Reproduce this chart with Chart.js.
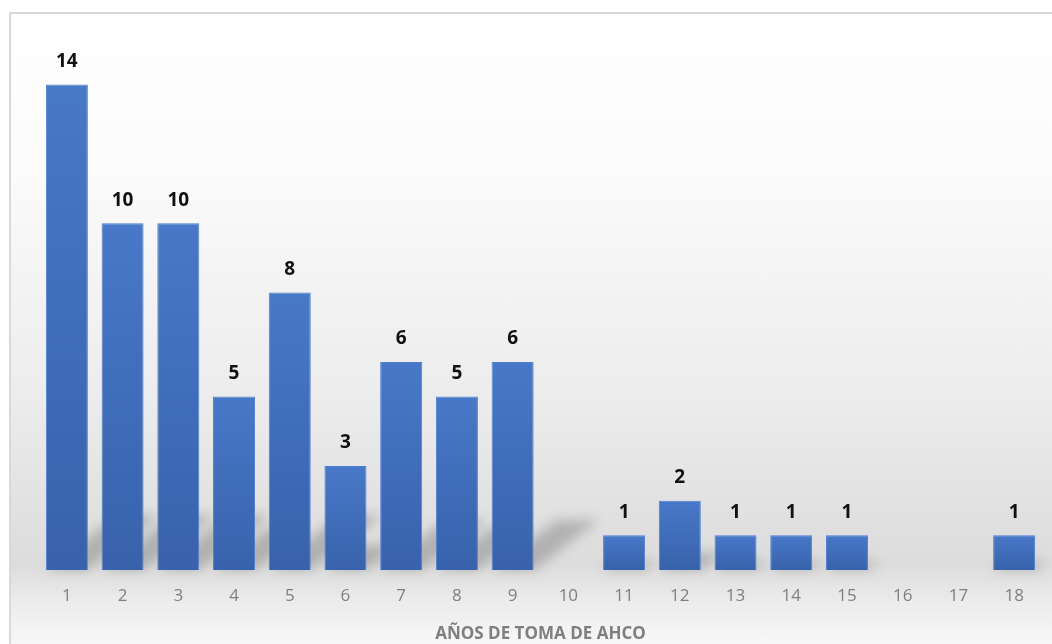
<!DOCTYPE html>
<html>
<head>
<meta charset="utf-8">
<script src="https://cdn.jsdelivr.net/npm/chart.js@4"></script>
<style>
  html, body { margin: 0; padding: 0; background: #fff; }
  #frame {
    position: absolute; left: 9px; top: 12px; width: 1050px; height: 640px;
    border-top: 2px solid #d9d9d9; border-left: 2px solid #d9d9d9;
    background: linear-gradient(to bottom, #ffffff 0%, #fbfbfb 25%, #ececec 60%, #dcdcdc 86%, #ececec 92%, #fafafa 100%);
  }
  #wrap { position: absolute; left: 0; top: 0; width: 1052px; height: 644px; }
</style>
</head>
<body>
<div id="frame"></div>
<div id="wrap"><canvas id="chart" width="1052" height="644"></canvas></div>
<script>
const categories = ["1", "2", "3", "4", "5", "6", "7", "8", "9", "10", "11", "12", "13", "14", "15", "16", "17", "18"];
const counts = [14, 10, 10, 5, 8, 3, 6, 5, 6, 0, 1, 2, 1, 1, 1, 0, 0, 1];
const axisTitle = "AÑOS DE TOMA DE AHCO";

function barFill(context) {
  const chart = context.chart;
  const y = chart.scales.y;
  if (!y || context.raw == null) return "#4472c4";
  const top = y.getPixelForValue(context.raw);
  const base = y.getPixelForValue(0);
  if (!isFinite(top) || !isFinite(base) || top === base) return "#4472c4";
  const g = chart.ctx.createLinearGradient(0, top, 0, base);
  g.addColorStop(0, "#4878c8");
  g.addColorStop(1, "#3862ab");
  return g;
}

// soft floor shadow behind each bar
const floorShadow = {
  id: "floorShadow",
  beforeDatasetsDraw(chart) {
    const ctx = chart.ctx;
    const meta = chart.getDatasetMeta(0);
    ctx.save();
    ctx.filter = "blur(6px)";
    ctx.fillStyle = "rgba(0,0,0,0.2)";
    meta.data.forEach((bar) => {
      const h = bar.base - bar.y;
      if (h <= 0) return;
      const s = Math.min(h * 0.24, 55);
      const left = bar.x - bar.width / 2;
      const right = bar.x + bar.width / 2;
      ctx.beginPath();
      ctx.moveTo(left, bar.base);
      ctx.lineTo(right, bar.base);
      ctx.lineTo(right + s * 1.3, bar.base - s);
      ctx.lineTo(left + s * 1.3, bar.base - s);
      ctx.closePath();
      ctx.fill();
    });
    ctx.restore();
  },
};

const valueLabels = {
  id: "valueLabels",
  afterDatasetsDraw(chart) {
    const ctx = chart.ctx;
    const meta = chart.getDatasetMeta(0);
    ctx.save();
    ctx.font = "bold 19px 'Open Sans', sans-serif";
    ctx.fillStyle = "#111";
    ctx.textAlign = "center";
    ctx.textBaseline = "middle";
    meta.data.forEach((bar, i) => {
      if (!counts[i]) return;
      ctx.fillText(String(counts[i]), bar.x, bar.y - 23);
    });
    ctx.restore();
  },
};

new Chart(document.getElementById("chart").getContext("2d"), {
  type: "bar",
  data: {
    labels: categories,
    datasets: [{
      data: counts,
      backgroundColor: barFill,
      borderColor: "#4f7fd0",
      borderWidth: 1,
      categoryPercentage: 0.754,
      barPercentage: 1,
    }],
  },
  options: {
    responsive: false,
    animation: false,
    layout: { padding: { left: 39, right: 10, top: 15, bottom: 0 } },
    plugins: { legend: { display: false }, tooltip: { enabled: false } },
    scales: {
      x: {
        afterFit(scale) { scale.height = 74; },
        grid: { display: false, drawTicks: false },
        border: { display: false },
        ticks: { color: "#7f7f7f", font: { family: "'Open Sans', sans-serif", size: 17 }, padding: 16 },
        title: {
          display: true,
          text: axisTitle,
          color: "#7f7f7f",
          font: { family: "'Open Sans', sans-serif", size: 17, weight: "bold" },
          padding: { top: 0, bottom: 0 },
        },
      },
      y: { display: false, min: 0, max: 16 },
    },
  },
  plugins: [floorShadow, valueLabels],
});
</script>
</body>
</html>
